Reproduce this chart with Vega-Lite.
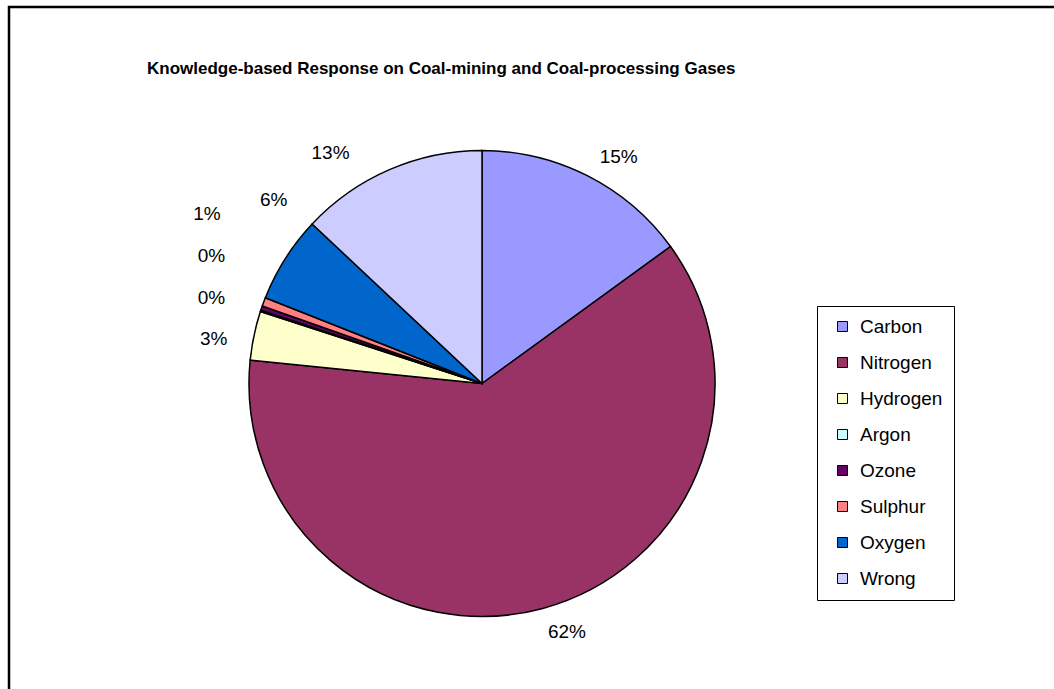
{
  "$schema": "https://vega.github.io/schema/vega-lite/v6.json",
  "width": 1070,
  "height": 700,
  "autosize": {"type": "none"},
  "padding": {"left": 9, "top": 7, "right": 0, "bottom": 0},
  "background": "white",
  "config": {
    "view": {"stroke": "black", "strokeWidth": 2.5},
    "font": "Liberation Sans",
    "text": {"font": "Liberation Sans", "fontSize": 19, "color": "black"}
  },
  "title": {
    "text": "Knowledge-based Response on Coal-mining and Coal-processing Gases",
    "orient": "top",
    "anchor": "start",
    "frame": "group",
    "dx": 138,
    "offset": -71,
    "fontSize": 17,
    "fontWeight": "bold",
    "font": "Liberation Sans",
    "color": "black"
  },
  "data": {
    "values": [
      {"idx": 1, "gas": "Carbon", "share": 0.150},
      {"idx": 2, "gas": "Nitrogen", "share": 0.616},
      {"idx": 3, "gas": "Hydrogen", "share": 0.034},
      {"idx": 4, "gas": "Argon", "share": 0.001},
      {"idx": 5, "gas": "Ozone", "share": 0.003},
      {"idx": 6, "gas": "Sulphur", "share": 0.006},
      {"idx": 7, "gas": "Oxygen", "share": 0.060},
      {"idx": 8, "gas": "Wrong", "share": 0.130}
    ]
  },
  "encoding": {
    "theta": {"field": "share", "type": "quantitative", "stack": true},
    "order": {"field": "idx", "type": "quantitative"},
    "x": {"value": 473},
    "y": {"value": 376.5}
  },
  "layer": [
    {
      "mark": {"type": "arc", "outerRadius": 233, "stroke": "black", "strokeWidth": 1.5},
      "encoding": {
        "color": {
          "field": "gas",
          "type": "nominal",
          "scale": {
            "domain": ["Carbon", "Nitrogen", "Hydrogen", "Argon", "Ozone", "Sulphur", "Oxygen", "Wrong"],
            "range": ["#9999FF", "#993366", "#FFFFCC", "#CCFFFF", "#660066", "#FF8080", "#0066CC", "#CCCCFF"]
          },
          "legend": {
            "title": null,
            "orient": "none",
            "legendX": 808,
            "legendY": 299,
            "symbolType": "square",
            "symbolSize": 100,
            "symbolStrokeColor": "black",
            "symbolStrokeWidth": 1,
            "symbolOpacity": 1,
            "labelFontSize": 19,
            "labelFont": "Liberation Sans",
            "labelColor": "black",
            "labelOffset": 8,
            "symbolOffset": 5,
            "rowPadding": 16,
            "strokeColor": "black",
            "fillColor": "white",
            "padding": 11
          }
        }
      }
    },
    {
      "mark": {"type": "text", "radius": 268, "dx": 15, "dy": 12},
      "encoding": {"text": {"condition": {"test": "datum.gas === 'Carbon'", "field": "share", "format": ".0%"}, "value": ""}}
    },
    {
      "mark": {"type": "text", "radius": 268, "dx": 15, "dy": -10},
      "encoding": {"text": {"condition": {"test": "datum.gas === 'Nitrogen'", "field": "share", "format": ".0%"}, "value": ""}}
    },
    {
      "mark": {"type": "text", "radius": 268, "dx": -6, "dy": 11},
      "encoding": {"text": {"condition": {"test": "datum.gas === 'Hydrogen'", "field": "share", "format": ".0%"}, "value": ""}}
    },
    {
      "mark": {"type": "text", "radius": 268, "dx": -16, "dy": -2},
      "encoding": {"text": {"condition": {"test": "datum.gas === 'Argon'", "field": "share", "format": ".0%"}, "value": ""}}
    },
    {
      "mark": {"type": "text", "radius": 268, "dx": -17, "dy": -41},
      "encoding": {"text": {"condition": {"test": "datum.gas === 'Ozone'", "field": "share", "format": ".0%"}, "value": ""}}
    },
    {
      "mark": {"type": "text", "radius": 268, "dx": -24, "dy": -76},
      "encoding": {"text": {"condition": {"test": "datum.gas === 'Sulphur'", "field": "share", "format": ".0%"}, "value": ""}}
    },
    {
      "mark": {"type": "text", "radius": 268, "dx": 18, "dy": -40},
      "encoding": {"text": {"condition": {"test": "datum.gas === 'Oxygen'", "field": "share", "format": ".0%"}, "value": ""}}
    },
    {
      "mark": {"type": "text", "radius": 268, "dx": -45, "dy": 15},
      "encoding": {"text": {"condition": {"test": "datum.gas === 'Wrong'", "field": "share", "format": ".0%"}, "value": ""}}
    }
  ]
}
